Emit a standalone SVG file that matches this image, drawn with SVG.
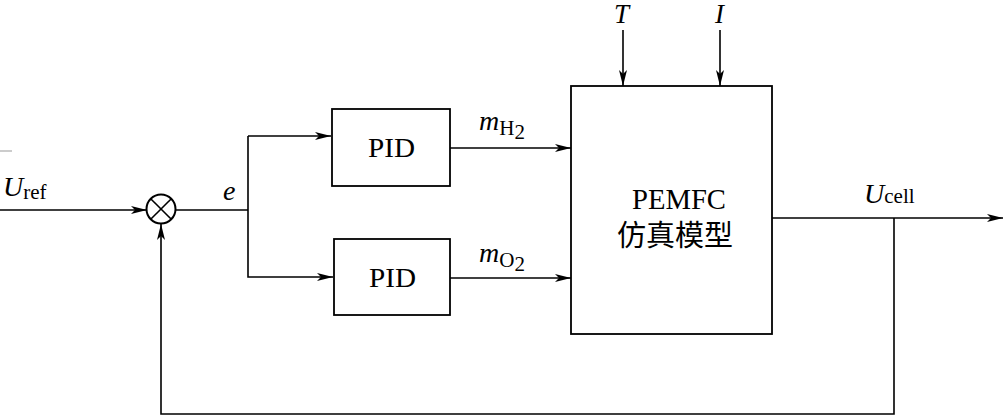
<svg xmlns="http://www.w3.org/2000/svg" width="1003" height="419" viewBox="0 0 1003 419">
<style>
.ln{fill:none;stroke:#000;stroke-width:1.6}
.bx{fill:#fff;stroke:#000;stroke-width:1.8}
.t{font-family:"Liberation Serif","Times New Roman",serif;fill:#000}
.i{font-style:italic}
.cjk{font-family:"Liberation Serif","Noto Sans CJK SC",serif;fill:#000}
</style>
<defs>
<marker id="ar" viewBox="0 0 16 8" refX="16" refY="4" markerWidth="16" markerHeight="8" markerUnits="userSpaceOnUse" orient="auto">
<path d="M0,0 L16,4 L0,8 L4,4 z" fill="#000"/>
</marker>
</defs>
<rect width="1003" height="419" fill="#fff"/>
<line x1="0" y1="151" x2="12" y2="151" stroke="#999" stroke-width="1"/>
<g id="connectors">
<line class="ln" x1="0" y1="210" x2="147" y2="210" marker-end="url(#ar)"/>
<line class="ln" x1="176" y1="210" x2="248" y2="210"/>
<polyline class="ln" points="248,136 248,277 333,277" marker-end="url(#ar)"/>
<line class="ln" x1="248" y1="136" x2="331" y2="136" marker-end="url(#ar)"/>
<line class="ln" x1="450" y1="148" x2="571" y2="148" marker-end="url(#ar)"/>
<line class="ln" x1="450" y1="278" x2="571" y2="278" marker-end="url(#ar)"/>
<line class="ln" x1="623" y1="30" x2="623" y2="86" marker-end="url(#ar)"/>
<line class="ln" x1="720" y1="30" x2="720" y2="86" marker-end="url(#ar)"/>
<line class="ln" x1="772" y1="218" x2="1003" y2="218" marker-end="url(#ar)"/>
<polyline class="ln" points="894,218 894,414 161,414 161,224" marker-end="url(#ar)"/>
</g>
<g id="sum">
<circle cx="161" cy="209" r="14.5" fill="#fff" stroke="#000" stroke-width="2"/>
<line class="ln" x1="150.7" y1="198.7" x2="171.3" y2="219.3"/>
<line class="ln" x1="171.3" y1="198.7" x2="150.7" y2="219.3"/>
</g>
<g id="pid1">
<rect class="bx" x="332" y="109" width="118" height="77"/>
<text class="t" x="368" y="157" font-size="27" textLength="47" lengthAdjust="spacingAndGlyphs">PID</text>
</g>
<g id="pid2">
<rect class="bx" x="334" y="239" width="116" height="76"/>
<text class="t" x="369" y="287" font-size="27" textLength="47" lengthAdjust="spacingAndGlyphs">PID</text>
</g>
<g id="pemfc">
<rect class="bx" x="571" y="86" width="201" height="248"/>
<text class="t" x="632" y="209" font-size="29" textLength="94" lengthAdjust="spacingAndGlyphs">PEMFC</text>
<text class="cjk" x="675" y="246" font-size="29" text-anchor="middle">仿真模型</text>
</g>
<g id="labels">
<text class="t" x="3" y="196" font-size="28"><tspan class="i">U</tspan><tspan font-size="21" dy="3">ref</tspan></text>
<text class="t i" x="223" y="200" font-size="28">e</text>
<text class="t" x="479" y="130" font-size="28"><tspan class="i">m</tspan><tspan font-size="21" dy="5">H</tspan><tspan font-size="21" dy="4">2</tspan></text>
<text class="t" x="479" y="262" font-size="28"><tspan class="i">m</tspan><tspan font-size="21" dy="5">O</tspan><tspan font-size="21" dy="4">2</tspan></text>
<text class="t i" x="614" y="23" font-size="27">T</text>
<text class="t i" x="715" y="23" font-size="27">I</text>
<text class="t" x="864" y="203" font-size="28"><tspan class="i">U</tspan><tspan font-size="21">cell</tspan></text>
</g>
</svg>
